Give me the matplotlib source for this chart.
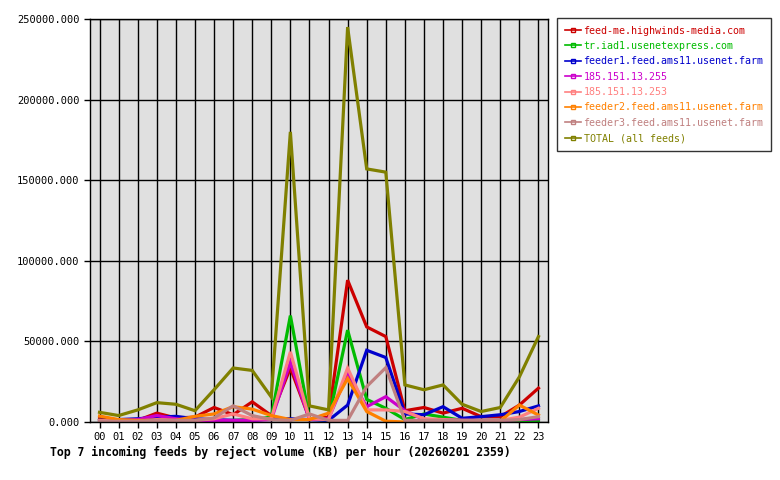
import matplotlib
matplotlib.use("Agg")
import matplotlib.pyplot as plt
from matplotlib.ticker import FuncFormatter, MultipleLocator

# hourly reject volume (KB) per feed
hours = ["%02d" % h for h in range(24)]

feed_names = [
    "feed-me.highwinds-media.com",
    "tr.iad1.usenetexpress.com",
    "feeder1.feed.ams11.usenet.farm",
    "185.151.13.255",
    "185.151.13.253",
    "feeder2.feed.ams11.usenet.farm",
    "feeder3.feed.ams11.usenet.farm",
    "TOTAL (all feeds)",
]
feed_colors = ["#cc0000", "#00bb00", "#0000cc", "#cc00cc", "#ff8080",
               "#ff8000", "#c08080", "#808000"]

feedme = [2000, 1000, 1000, 5500, 2500, 3000, 9000, 4500, 12500, 4000, 33500, 2000,
          3000, 88000, 59000, 53000, 7000, 9000, 5500, 8500, 3300, 3300, 10500, 21000]
iad1 = [1000, 800, 700, 800, 700, 800, 800, 1000, 1500, 3000, 66000, 2000,
        1000, 57000, 14000, 8500, 1500, 5000, 3000, 1000, 1000, 1000, 1000, 1000]
feeder1 = [1000, 1500, 2000, 3000, 3500, 2000, 1500, 1000, 1000, 2000, 2000, 1500,
           1000, 10500, 44500, 40000, 5000, 4500, 9500, 2300, 3300, 4500, 6500, 10000]
ip255 = [500, 1000, 1500, 4000, 2000, 1000, 1000, 1000, 1000, 1500, 37000, 1500,
         2000, 30000, 9500, 15700, 7000, 1500, 1500, 1000, 1000, 1000, 1500, 2000]
ip253 = [1000, 500, 500, 1500, 1000, 1000, 2000, 5000, 2000, 2000, 43500, 2000,
         1500, 33500, 7500, 7500, 6500, 2000, 1500, 1000, 1000, 1000, 3000, 8500]
feeder2 = [3700, 1500, 1000, 1000, 1000, 3500, 5000, 9500, 8000, 4000, 1500, 1500,
           5500, 27000, 6500, 500, 0, 0, 0, 0, 0, 500, 10500, 4300]
feeder3 = [500, 500, 500, 1000, 1000, 1000, 2500, 10000, 4000, 1500, 1000, 5000,
           1000, 1000, 22000, 33700, 1000, 1000, 1000, 1000, 1000, 1000, 1500, 3300]
total = [6000, 4000, 7500, 12000, 11000, 7000, 20000, 33500, 32000, 15500, 180000, 10000,
         7500, 245000, 157000, 155000, 23000, 20000, 23000, 11000, 6500, 9000, 28000, 53000]

series = [feedme, iad1, feeder1, ip255, ip253, feeder2, feeder3, total]

plt.rcParams['font.family'] = ['DejaVu Sans Mono']

fig = plt.figure(figsize=(7.8, 4.8), dpi=100)
ax = fig.add_axes([90 / 780, 58 / 480, 458 / 780, 403 / 480])
ax.set_facecolor("#e0e0e0")

x = list(range(len(hours)))
lines = []
for name, color, vals in zip(feed_names, feed_colors, series):
    ln, = ax.plot(x, vals, color=color, linewidth=2.3, label=name,
                  solid_joinstyle="miter")
    lines.append(ln)

ax.set_xlim(-0.5, 23.5)
ax.set_ylim(0, 250000)
ax.set_xticks(x)
ax.set_xticklabels(hours)
ax.yaxis.set_major_locator(MultipleLocator(50000))
ax.yaxis.set_major_formatter(FuncFormatter(lambda v, p: "%.3f" % v))
ax.grid(True, color="black", linewidth=1)
ax.set_axisbelow(True)
ax.tick_params(axis="both", labelsize=7.5, length=4, width=1, color="black")
for s in ax.spines.values():
    s.set_linewidth(1)

fig.text(50 / 780, 1 - 452 / 480, "Top 7 incoming feeds by reject volume (KB) per hour (20260201 2359)",
         fontsize=8.3, fontweight="bold", va="center", ha="left")

leg = ax.legend(handles=lines, loc="upper left", bbox_to_anchor=(557 / 780, 1 - 18 / 480),
                bbox_transform=fig.transFigure, fontsize=7.2, frameon=True, fancybox=False,
                edgecolor="black", handlelength=1.6, handletextpad=0.3, borderpad=0.75,
                labelspacing=0.54, borderaxespad=0, labelcolor="linecolor")
for h in leg.get_lines():
    h.set_linewidth(1.2)
    h.set_marker("s")
    h.set_markersize(3)
    h.set_markerfacecolor("none")
    h.set_markevery([1])
leg.get_frame().set_linewidth(1)

fig.savefig("out.png", dpi=100)
